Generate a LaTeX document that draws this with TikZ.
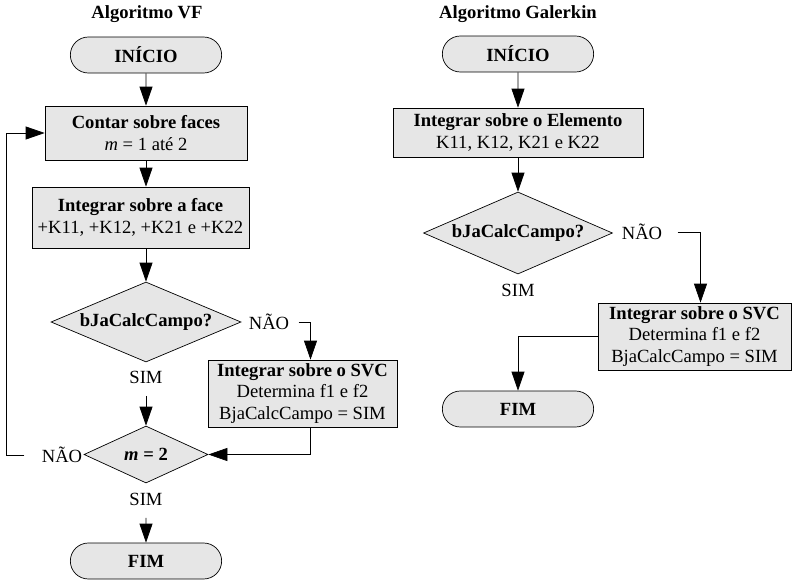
\documentclass[tikz,border=0pt]{standalone}
\usepackage{fontspec}
\setmainfont{Liberation Serif}
\usetikzlibrary{positioning,shapes.geometric,shapes.misc,arrows.meta}
\definecolor{boxgray}{RGB}{230,230,230}

\begin{document}
\begin{tikzpicture}[x=1pt, y=-1pt,
    every node/.style={font=\fontsize{18.6}{21.5}\selectfont},
    terminal/.style={rounded rectangle, draw, line width=0.7pt, fill=boxgray, minimum width=158pt, minimum height=36pt, font=\fontsize{18.6}{21.5}\selectfont\bfseries},
    proc/.style={rectangle, draw, line width=0.7pt, fill=boxgray, align=center, inner sep=2pt},
    decis/.style={diamond, draw, line width=0.7pt, fill=boxgray, aspect=2.4, inner sep=0pt, font=\fontsize{18.6}{21.5}\selectfont\bfseries},
    title/.style={font=\fontsize{18.6}{21.5}\selectfont\bfseries},
    arr/.style={-{Triangle[length=19pt,width=13pt]}, line width=0.7pt}
]
\useasboundingbox (0,0) rectangle (801,581);
% Algoritmo VF
\node[title] (tit1) at (147,14) {Algoritmo VF};
\node[terminal] (ini1) at (146,55) {INÍCIO};
\node[proc, minimum width=202pt, minimum height=54pt] (contar) at (146,133) {\textbf{Contar sobre faces}\\\textit{m} = 1 até 2};
\node[proc, minimum width=217pt, minimum height=61pt] (face) at (140.5,217.5) {\textbf{Integrar sobre a face}\\+K11, +K12, +K21 e +K22};
\node[decis, minimum width=190pt, minimum height=80pt] (dec1) at (146,322) {bJaCalcCampo?};
\node (nao1) at (269,322) {NÃO};
\node (sim1) at (146,377) {SIM};
\node[proc, minimum width=189pt, minimum height=67pt] (svc1) at (302.5,393.5) {\textbf{Integrar sobre o SVC}\\Determina f1 e f2\\BjaCalcCampo = SIM};
\node[decis, minimum width=124pt, minimum height=57pt] (dec2) at (146,454.5) {\textit{m} = 2};
\node (nao2) at (62,455) {NÃO};
\node (sim2) at (146,499) {SIM};
\node[terminal] (fim1) at (146,561) {FIM};
\draw[arr] (ini1) -- (contar);
\draw[arr] (contar.south) -- (contar.south |- face.north);
\draw[arr] (face.south -| dec1.north) -- (dec1.north);
\draw[arr] ([xshift=6pt]nao1.east) -| ([xshift=8pt]svc1.north);
\draw[arr] ([yshift=-9pt]sim1.south) -- (dec2.north);
\draw[arr] ([xshift=8pt]svc1.south) |- (dec2.east);
\draw[arr] ([xshift=-14pt]nao2.west) -- ++(-18,0) |- (contar.west);
\draw[arr] ([yshift=-9pt]sim2.south) -- (fim1);
% Algoritmo Galerkin
\node[title] (tit2) at (518,14) {Algoritmo Galerkin};
\node[terminal] (ini2) at (518,54) {INÍCIO};
\node[proc, minimum width=250pt, minimum height=49pt] (elem) at (518,132.5) {\textbf{Integrar sobre o Elemento}\\K11, K12, K21 e K22};
\node[decis, minimum width=189pt, minimum height=82pt] (dec3) at (518,233) {bJaCalcCampo?};
\node (nao3) at (642,232) {NÃO};
\node (sim3) at (518,290) {SIM};
\node[proc, minimum width=193pt, minimum height=67pt] (svc2) at (694.5,336.5) {\textbf{Integrar sobre o SVC}\\Determina f1 e f2\\BjaCalcCampo = SIM};
\node[terminal] (fim2) at (518,409) {FIM};
\draw[arr] (ini2) -- (elem);
\draw[arr] (elem) -- (dec3);
\draw[arr] ([xshift=12pt]nao3.east) -| ([xshift=6pt]svc2.north);
\draw[arr] (svc2.west) -| (fim2.north);
\end{tikzpicture}
\end{document}
